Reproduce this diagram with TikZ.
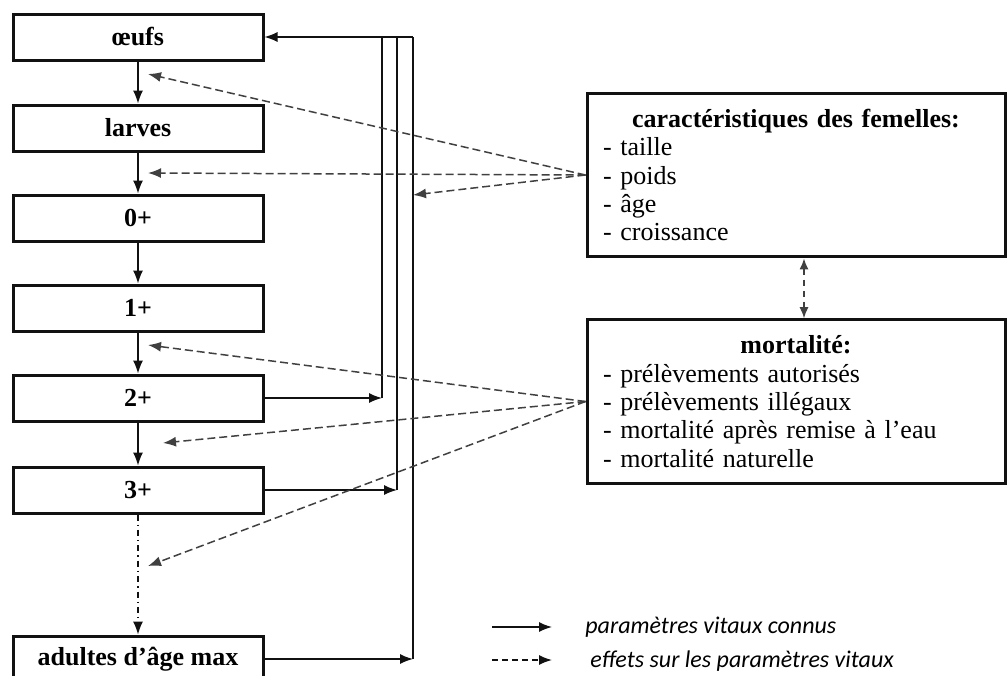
\documentclass[tikz,border=0pt]{standalone}
\usepackage{fontspec}
\setmainfont{Liberation Serif}
\newfontfamily\legendfont{Carlito}
\usepackage{tikz}
\usetikzlibrary{arrows.meta,positioning,calc}
\definecolor{Ink}{HTML}{111111}
\definecolor{Muted}{HTML}{404040}
\tikzset{
  stage/.style={draw=Ink,line width=1.5pt,minimum width=125pt,minimum height=23pt,inner sep=0pt,font=\fontsize{13}{15}\selectfont\bfseries},
  infobox/.style={draw=Ink,line width=1.5pt,text width=193pt,minimum height=81pt,inner sep=8pt,align=left,font=\fontsize{13}{14.15}\selectfont},
  arrow/.style={-{Latex[length=6.5pt,width=5pt]},line width=0.7pt,draw=Ink},
  bus/.style={line width=0.6pt,draw=Ink},
  effect/.style={-{Latex[length=6.5pt,width=5pt]},line width=0.75pt,draw=Muted,dash pattern=on 4pt off 2pt},
  legend/.style={font=\legendfont\itshape\fontsize{12}{14}\selectfont,anchor=west,inner sep=0pt}
}
\begin{document}
\begin{tikzpicture}[x=0.5pt,y=-0.5pt]
  \clip (0,0) rectangle (1007,675);
  % life stages
  \node[stage] (oeufs) at (138,37) {œufs};
  \node[stage] (larves) at (138,128) {larves};
  \node[stage] (age0) at (138,218) {0+};
  \node[stage] (age1) at (138,308) {1+};
  \node[stage] (age2) at (138,398) {2+};
  \node[stage] (age3) at (138,490) {3+};
  \node[stage] (agemax) at (138,659) {adultes d’âge max};
  \foreach \a/\b in {oeufs/larves,larves/age0,age0/age1,age1/age2,age2/age3}
    \draw[arrow] (\a) -- (\b);
  \draw[arrow,dash dot] (age3) -- (agemax);
  % spawners back to eggs
  \coordinate (busA) at (382,37);
  \coordinate (busB) at (397,37);
  \coordinate (busC) at (413,37);
  \draw[arrow] (busC) -- (oeufs);
  \draw[bus] (busA) -- (busA |- age2);
  \draw[bus] (busB) -- (busB |- age3);
  \draw[bus] (busC) -- (busC |- agemax);
  \draw[arrow] (age2) -- (busA |- age2);
  \draw[arrow] (age3) -- (busB |- age3);
  \draw[arrow] (agemax) -- (busC |- agemax);
  % factors
  \node[infobox] (femelles) at (796,175) {\makebox[\hsize][c]{\bfseries caractéristiques des femelles:}\\- taille\\- poids\\- âge\\- croissance};
  \node[infobox] (mortalite) at (796,401.5) {\makebox[\hsize][c]{\bfseries mortalité:}\\- prélèvements autorisés\\- prélèvements illégaux\\- mortalité après remise à l’eau\\- mortalité naturelle};
  \draw[effect,{Latex[length=5.5pt,width=4.5pt]}-{Latex[length=5.5pt,width=4.5pt]},dash pattern=on 3pt off 2.5pt] ([xshift=4pt]femelles.south) -- ([xshift=4pt]mortalite.north);
  \coordinate (hitEggs) at (148,74);
  \coordinate (hitLarvae) at (148,173);
  \coordinate (hitBus) at (413,195);
  \coordinate (hitOne) at (148,345);
  \coordinate (hitTwo) at (163,443);
  \coordinate (hitThree) at (148,566);
  \foreach \t in {hitEggs,hitLarvae,hitBus}
    \draw[effect] (femelles.west) -- (\t);
  \foreach \t in {hitOne,hitTwo,hitThree}
    \draw[effect] (mortalite.west) -- (\t);
  % legend
  \coordinate (legKnownA) at (492,627);
  \coordinate (legKnownB) at (552,627);
  \coordinate (legEffectA) at (492,660);
  \coordinate (legEffectB) at (552,660);
  \draw[arrow] (legKnownA) -- (legKnownB);
  \draw[effect,draw=Ink,dash pattern=on 3pt off 2pt] (legEffectA) -- (legEffectB);
  \node[legend] (legKnown) at (585,627) {paramètres vitaux connus};
  \node[legend] (legEffect) at (590,661) {effets sur les paramètres vitaux};
\end{tikzpicture}
\end{document}
